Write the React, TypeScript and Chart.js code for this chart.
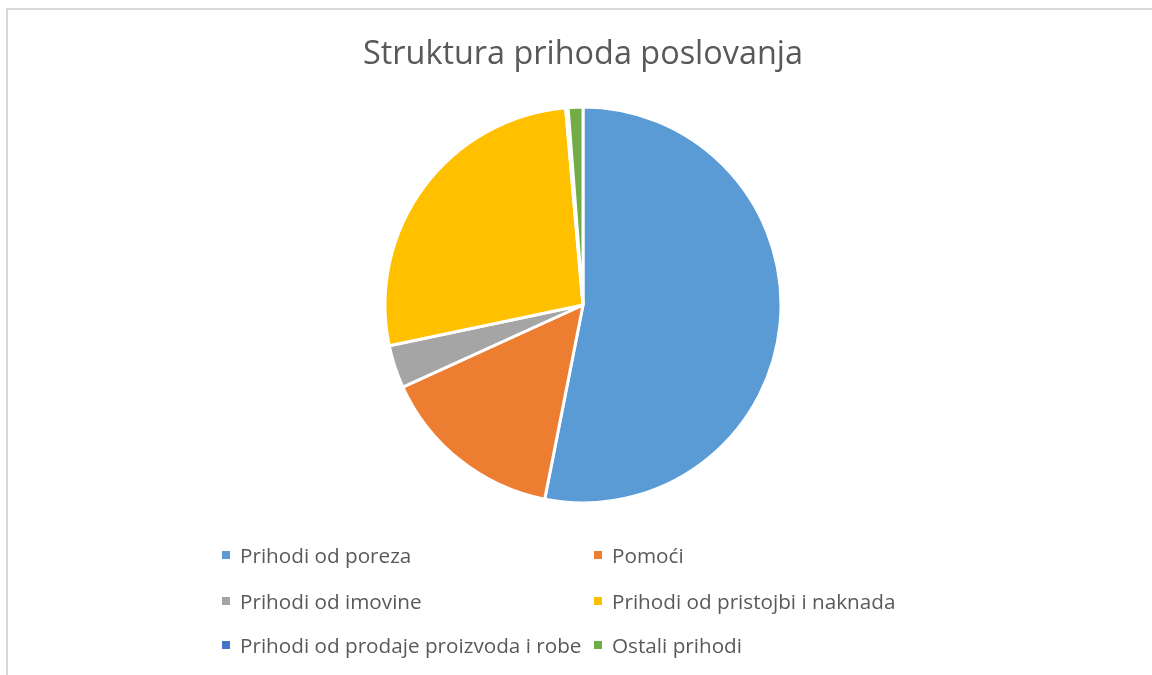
import React, { useEffect, useRef } from "react";
import { Chart, registerables } from "chart.js";

Chart.register(...registerables);

const title = "Struktura prihoda poslovanja";
const categories = [
  "Prihodi od poreza",
  "Pomoći",
  "Prihodi od imovine",
  "Prihodi od pristojbi i naknada",
  "Prihodi od prodaje proizvoda i robe",
  "Ostali prihodi",
];
const shares = [53.1, 15.1, 3.5, 26.9, 0.2, 1.2];
const colors = ["#5B9BD5", "#ED7D31", "#A5A5A5", "#FFC000", "#4472C4", "#70AD47"];

const FONT = "'Open Sans', sans-serif";

export default function App() {
  const ref = useRef<HTMLCanvasElement>(null);
  useEffect(() => {
    if (!ref.current) return;
    const chart = new Chart(ref.current, {
      type: "pie",
      data: {
        labels: categories,
        datasets: [
          {
            data: shares,
            backgroundColor: colors,
            borderColor: "#ffffff",
            borderWidth: 3,
          },
        ],
      },
      options: {
        animation: false,
        responsive: false,
        radius: 198,
        layout: { padding: { top: 100, bottom: 165, left: 14, right: 0 } },
        plugins: { legend: { display: false }, title: { display: false }, tooltip: { enabled: false } },
      },
    });
    return () => chart.destroy();
  }, []);

  const rows = [
    [0, 1],
    [2, 3],
    [4, 5],
  ];
  const rowY = [555, 601, 645];
  const colX = [222, 594];

  return (
    <div style={{ position: "fixed", left: 0, top: 0, width: 1152, height: 675, background: "#fff", overflow: "hidden", fontFamily: FONT }}>
      <div style={{ position: "absolute", left: 6, top: 8, width: 1200, height: 700, borderTop: "2px solid #d9d9d9", borderLeft: "2px solid #d9d9d9" }} />
      <canvas ref={ref} width={1152} height={675} style={{ position: "absolute", left: 0, top: 0 }} />
      <div style={{ position: "absolute", left: 0, width: 1166, top: 28, textAlign: "center", fontSize: 32.4, color: "#595959", lineHeight: "46px", whiteSpace: "nowrap" }}>
        {title}
      </div>
      {rows.map((r, ri) =>
        r.map((idx, ci) => (
          <div key={idx} style={{ position: "absolute", left: colX[ci], top: rowY[ri] - 15, height: 30, display: "flex", alignItems: "center", whiteSpace: "nowrap" }}>
            <span style={{ display: "inline-block", width: 8, height: 8, background: colors[idx], marginRight: 10 }} />
            <span style={{ fontSize: 20.7, color: "#595959" }}>{categories[idx]}</span>
          </div>
        ))
      )}
    </div>
  );
}
